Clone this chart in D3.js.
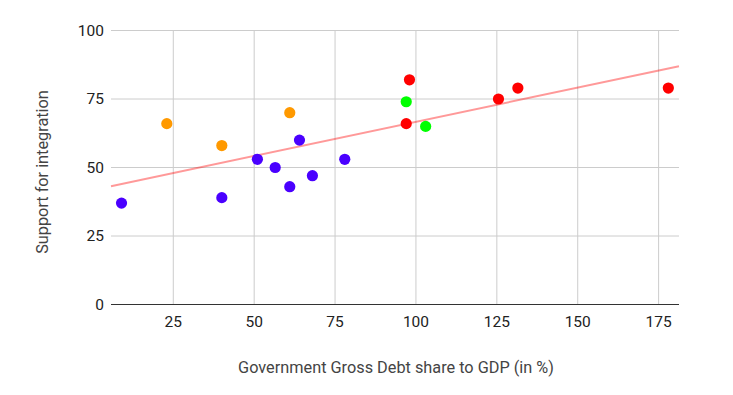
<!DOCTYPE html>
<html lang="en">
<head>
    <meta charset="UTF-8">
    <title>Debt vs support for integration</title>
    <style>
        body { margin: 0; background: #fff; }
        text { font-family: Roboto, Arial, sans-serif; }
    </style>
</head>
<body>
    <div id="chart"></div>

    <script src="https://cdn.jsdelivr.net/npm/d3@7"></script>

    <script>
        // debt share to GDP (%) and support for integration, by group
        const blueDebt = [9, 40, 51, 56.5, 61, 64, 68, 78];
        const blueSupport = [37, 39, 53, 50, 43, 60, 47, 53];
        const orangeDebt = [23, 40, 61];
        const orangeSupport = [66, 58, 70];
        const greenDebt = [97, 103];
        const greenSupport = [74, 65];
        const redDebt = [98, 97, 125.5, 131.5, 178];
        const redSupport = [82, 66, 75, 79, 79];

        const xTicks = [25, 50, 75, 100, 125, 150, 175];
        const yTicks = [0, 25, 50, 75, 100];

        const groups = [
            { color: "#4a00ff", xs: blueDebt, ys: blueSupport },
            { color: "#ff9900", xs: orangeDebt, ys: orangeSupport },
            { color: "#00ff00", xs: greenDebt, ys: greenSupport },
            { color: "#ff0000", xs: redDebt, ys: redSupport }
        ];

        const W = 733, H = 395;
        const plotL = 111, plotR = 679, plotT = 30.5, plotB = 304.5;

        const svg = d3.select("#chart").append("svg")
            .attr("width", W)
            .attr("height", H);

        const x = d3.scaleLinear().domain([5.75, 181.3]).range([plotL, plotR]);
        const y = d3.scaleLinear().domain([0, 100]).range([plotB, plotT]);

        // grid
        svg.append("g")
            .selectAll("line")
            .data(yTicks.filter(d => d > 0))
            .enter().append("line")
            .attr("x1", plotL).attr("x2", plotR)
            .attr("y1", d => y(d)).attr("y2", d => y(d))
            .attr("stroke", "#cccccc").attr("stroke-width", 1);

        svg.append("g")
            .selectAll("line")
            .data(xTicks)
            .enter().append("line")
            .attr("x1", d => x(d)).attr("x2", d => x(d))
            .attr("y1", plotT).attr("y2", plotB)
            .attr("stroke", "#cccccc").attr("stroke-width", 1);

        // baseline
        svg.append("line")
            .attr("x1", plotL).attr("x2", plotR)
            .attr("y1", y(0)).attr("y2", y(0))
            .attr("stroke", "#333333").attr("stroke-width", 1.2);

        // tick labels
        svg.append("g")
            .selectAll("text")
            .data(yTicks)
            .enter().append("text")
            .attr("x", plotL - 7)
            .attr("y", d => y(d))
            .attr("dy", "0.35em")
            .attr("text-anchor", "end")
            .attr("font-size", 15.5)
            .attr("fill", "#222")
            .text(d => d);

        svg.append("g")
            .selectAll("text")
            .data(xTicks)
            .enter().append("text")
            .attr("x", d => x(d))
            .attr("y", plotB + 22)
            .attr("text-anchor", "middle")
            .attr("font-size", 15.5)
            .attr("fill", "#222")
            .text(d => d);

        // axis titles
        svg.append("text")
            .attr("x", 396)
            .attr("y", 373)
            .attr("text-anchor", "middle")
            .attr("font-size", 16.3)
            .attr("fill", "#444")
            .text("Government Gross Debt share to GDP (in %)");

        svg.append("text")
            .attr("transform", "translate(47.5,172) rotate(-90)")
            .attr("text-anchor", "middle")
            .attr("font-size", 16.3)
            .attr("fill", "#444")
            .text("Support for integration");

        // linear trendline across all points
        const allX = groups.flatMap(g => g.xs);
        const allY = groups.flatMap(g => g.ys);
        const mx = d3.mean(allX), my = d3.mean(allY);
        const slope = d3.sum(allX, (v, i) => (v - mx) * (allY[i] - my)) /
                      d3.sum(allX, v => (v - mx) * (v - mx));
        const icpt = my - slope * mx;
        const [x0, x1] = x.domain();

        svg.append("line")
            .attr("x1", x(x0)).attr("y1", y(icpt + slope * x0))
            .attr("x2", x(x1)).attr("y2", y(icpt + slope * x1))
            .attr("stroke", "#ff0000")
            .attr("stroke-opacity", 0.4)
            .attr("stroke-width", 2);

        // points
        groups.forEach(g => {
            svg.append("g")
                .selectAll("circle")
                .data(g.xs.map((v, i) => [v, g.ys[i]]))
                .enter().append("circle")
                .attr("cx", d => x(d[0]))
                .attr("cy", d => y(d[1]))
                .attr("r", 5.6)
                .attr("fill", g.color);
        });
    </script>
</body>
</html>
